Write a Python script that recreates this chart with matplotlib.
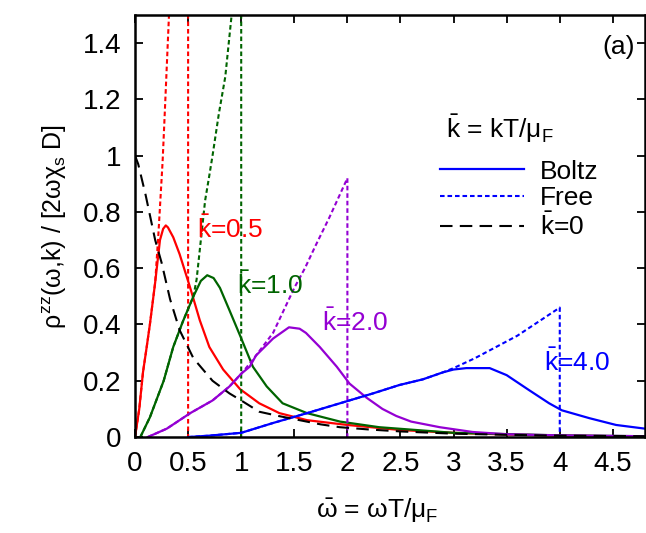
import matplotlib
matplotlib.use("Agg")
import matplotlib.pyplot as plt

plt.rcParams["font.family"] = ["Liberation Sans", "DejaVu Sans"]
plt.rcParams["mathtext.fontset"] = "custom"
plt.rcParams["mathtext.rm"] = "Liberation Sans"
plt.rcParams["mathtext.it"] = "Liberation Sans"
plt.rcParams["mathtext.bf"] = "Liberation Sans:bold"

RED, GREEN, PURPLE, BLUE = "#ff0000", "#006400", "#9400d3", "#0000ff"

# k = 0 (dashed black)
w_k0 = [0, 0.03, 0.1, 0.19, 0.25, 0.33, 0.42, 0.55, 0.73, 0.89, 1.0, 1.17, 1.35,
        1.55, 1.75, 1.93, 2.2, 2.5, 3.0, 3.5, 4.0, 4.8]
r_k0 = [1.0, 0.97, 0.86, 0.70, 0.62, 0.49, 0.38, 0.28, 0.20, 0.155, 0.13, 0.09, 0.075,
        0.06, 0.045, 0.035, 0.027, 0.02, 0.012, 0.008, 0.005, 0.003]

# k = 0.5
w05_b = [0, 0.04, 0.075, 0.11, 0.14, 0.19, 0.235, 0.265, 0.29, 0.31, 0.36, 0.42, 0.52, 0.61,
         0.70, 0.83, 0.99, 1.17, 1.36, 1.62, 2.0, 2.5, 3.0, 3.5, 4.0, 4.8]
r05_b = [0, 0.1, 0.23, 0.32, 0.40, 0.55, 0.70, 0.74, 0.752, 0.745, 0.71, 0.65, 0.53, 0.415,
         0.32, 0.24, 0.17, 0.12, 0.085, 0.06, 0.043, 0.025, 0.015, 0.009, 0.005, 0.002]
w05_f = [0, 0.04, 0.075, 0.11, 0.14, 0.19, 0.22, 0.26, 0.28, 0.32, 0.36, 0.40, 0.45, 0.5, 0.5]
r05_f = [0, 0.1, 0.23, 0.32, 0.40, 0.55, 0.72, 0.98, 1.15, 1.5, 1.85, 2.3, 2.95, 3.7, 0]

# k = 1.0
w10_b = [0.05, 0.14, 0.27, 0.36, 0.45, 0.55, 0.62, 0.68, 0.74, 0.80, 0.89, 0.99, 1.11,
         1.24, 1.39, 1.62, 1.93, 2.3, 3.0, 4.0, 4.8]
r10_b = [0, 0.07, 0.20, 0.32, 0.41, 0.50, 0.555, 0.575, 0.565, 0.53, 0.45, 0.36, 0.25,
         0.18, 0.12, 0.085, 0.055, 0.035, 0.015, 0.006, 0.003]
w10_f = [0.05, 0.14, 0.27, 0.36, 0.45, 0.55, 0.58, 0.62, 0.66, 0.70, 0.73, 0.79, 0.85,
         0.91, 1.0, 1.0]
r10_f = [0, 0.07, 0.20, 0.32, 0.41, 0.50, 0.56, 0.70, 0.84, 0.93, 1.0, 1.15, 1.28,
         1.5, 1.84, 0]

# k = 2.0
w20_b = [0.12, 0.3, 0.52, 0.73, 0.89, 1.0, 1.08, 1.14, 1.3, 1.45, 1.55, 1.61, 1.74, 1.9,
         2.02, 2.18, 2.33, 2.46, 2.6, 2.87, 3.18, 3.5, 4.0, 4.8]
r20_b = [0, 0.03, 0.085, 0.13, 0.18, 0.225, 0.25, 0.29, 0.35, 0.39, 0.385, 0.37, 0.32,
         0.25, 0.19, 0.14, 0.10, 0.075, 0.055, 0.035, 0.018, 0.01, 0.006, 0.003]
w20_f = [0.12, 0.3, 0.52, 0.73, 0.89, 1.0, 1.1, 1.2, 1.3, 1.4, 1.5, 1.6, 1.7, 1.83, 2.0, 2.0]
r20_f = [0, 0.03, 0.085, 0.13, 0.18, 0.225, 0.27, 0.32, 0.37, 0.45, 0.53, 0.60, 0.68,
         0.78, 0.92, 0]

# k = 4.0
w40_b = [0.5, 0.7, 1.0, 1.3, 1.62, 1.93, 2.24, 2.49, 2.71, 2.9, 3.0, 3.12, 3.34, 3.5,
         3.71, 3.9, 4.02, 4.28, 4.53, 4.8]
r40_b = [0, 0.005, 0.015, 0.05, 0.085, 0.12, 0.155, 0.185, 0.205, 0.23, 0.24, 0.245,
         0.245, 0.22, 0.167, 0.12, 0.095, 0.067, 0.043, 0.03]
w40_f = [0.5, 0.7, 1.0, 1.3, 1.62, 1.93, 2.24, 2.49, 2.71, 2.9, 3.0, 3.2, 3.4, 3.6,
         3.8, 4.0, 4.0]
r40_f = [0, 0.005, 0.015, 0.05, 0.085, 0.12, 0.155, 0.185, 0.205, 0.23, 0.245, 0.28,
         0.32, 0.36, 0.41, 0.46, 0]

curve_labels = [r"$\bar{\rm k}$=0.5", r"$\bar{\rm k}$=1.0", r"$\bar{\rm k}$=2.0", r"$\bar{\rm k}$=4.0"]
label_pos = [(0.58, 0.74), (0.96, 0.54), (1.76, 0.41), (3.85, 0.265)]

FREE_DASH = (2.2, 1.4)

fig = plt.figure(figsize=(6.46, 5.33), dpi=100)
ax = fig.add_axes([0.209, 0.18, 0.789, 0.792])

series = [(w05_b, r05_b, w05_f, r05_f, RED), (w10_b, r10_b, w10_f, r10_f, GREEN),
          (w20_b, r20_b, w20_f, r20_f, PURPLE), (w40_b, r40_b, w40_f, r40_f, BLUE)]
for wb, rb, wf, rf, c in series:
    ax.plot(wf, rf, color=c, lw=1.5, dashes=FREE_DASH)
    ax.plot(wb, rb, color=c, lw=1.6)
ax.plot(w_k0, r_k0, color="black", lw=1.5, dashes=(6, 3.5))

for (x, y), txt, (_, _, _, _, c) in zip(label_pos, curve_labels, series):
    ax.text(x, y, txt, color=c, fontsize=19, va="center", ha="left")
ax.text(4.55, 1.385, "(a)", fontsize=19, ha="center", va="center")

# legend: title as separate text, entries below
ax.text(2.93, 1.096, r"$\bar{\rm k}$ = kT/$\mu_{\rm F}$", fontsize=19, ha="left", va="center")
h1, = ax.plot([], [], color=BLUE, lw=1.6)
h2, = ax.plot([], [], color=BLUE, lw=1.5, dashes=FREE_DASH)
h3, = ax.plot([], [], color="black", lw=1.5, dashes=(6, 3.5))
leg = ax.legend([h1, h2, h3], ["Boltz", "Free", r"$\bar{\rm k}$=0"],
                fontsize=19, frameon=False, loc="center left",
                bbox_to_anchor=(0.598, 0.562), handlelength=3.2, handletextpad=0.6,
                labelspacing=0.08, borderaxespad=0, borderpad=0)

ax.set_xlim(0, 4.8)
ax.set_ylim(0, 1.5)
ax.set_xticks([0, 0.5, 1, 1.5, 2, 2.5, 3, 3.5, 4, 4.5])
ax.set_xticklabels(["0", "0.5", "1", "1.5", "2", "2.5", "3", "3.5", "4", "4.5"])
ax.set_yticks([0, 0.2, 0.4, 0.6, 0.8, 1.0, 1.2, 1.4])
ax.set_yticklabels(["0", "0.2", "0.4", "0.6", "0.8", "1", "1.2", "1.4"])
ax.tick_params(direction="in", top=True, right=True, length=6, width=1.3,
               labelsize=20, pad=10)
for s in ax.spines.values():
    s.set_linewidth(1.8)

ax.set_xlabel(r"$\bar{\omega}$ = $\omega$T/$\mu_{\rm F}$", fontsize=19)
ax.xaxis.set_label_coords(0.475, -0.14)
ax.set_ylabel(r"$\rho^{zz}$($\omega$,k) / [2$\omega\chi_{\rm s}$ D]", fontsize=18, labelpad=10)

fig.savefig("out.png", dpi=100)
